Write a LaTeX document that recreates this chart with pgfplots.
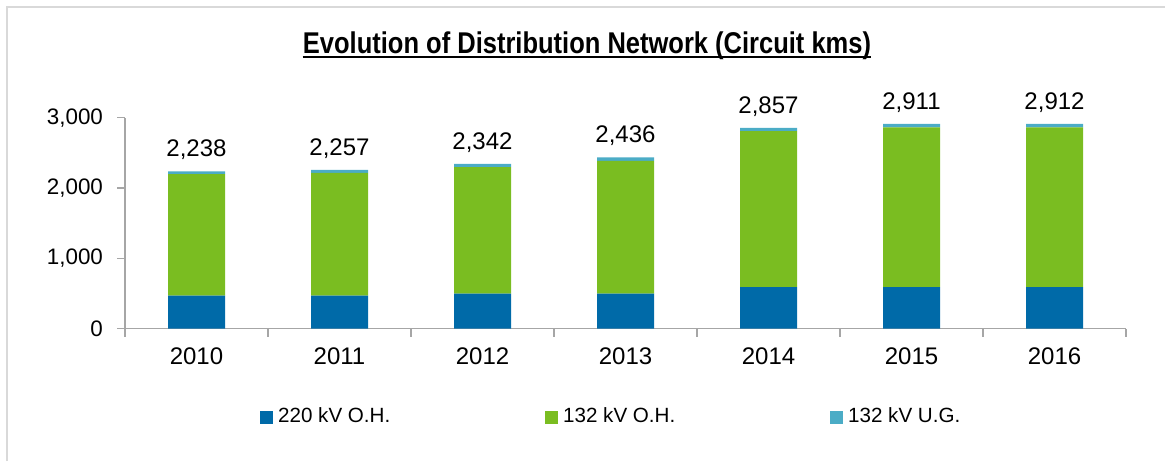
\documentclass[border=0pt]{standalone}
\usepackage{fontspec}
\setmainfont{Liberation Sans}
\newfontfamily\titlefont[FakeStretch=0.85]{Liberation Sans}
\usepackage{pgfplots}
\pgfplotsset{compat=1.18}
\usepackage{pgfplotstable}
\definecolor{cBlue}{HTML}{006AA8}
\definecolor{cGreen}{HTML}{7ABD21}
\definecolor{cAqua}{HTML}{4BACC6}
\definecolor{axgray}{HTML}{A6A6A6}
\definecolor{framegray}{HTML}{D9D9D9}

\pgfplotstableread{
x oh220 oh132 ug132 total
0 470 1728 40 2238
1 470 1745 42 2257
2 500 1797 45 2342
3 500 1888 48 2436
4 590 2220 47 2857
5 590 2273 48 2911
6 590 2274 48 2912
}\datatable

\pgfplotsset{sq/.style={legend image code/.code={\fill[##1] (0pt,-3.25pt) rectangle (6.5pt,3.25pt);}}}

\begin{document}
\begin{tikzpicture}
\path[use as bounding box] (0,0) rectangle (582.5pt,230.5pt);
\draw[framegray, line width=0.75pt] (3.5pt,0) -- (3.5pt,227pt) -- (582.5pt,227pt);
\node (T) [anchor=base, inner sep=0pt, font=\titlefont\bfseries\fontsize{15}{18}\selectfont] at (293.5pt,203.5pt) {Evolution of Distribution Network (Circuit kms)};
\draw[black, line width=0.8pt] ([yshift=-1.6pt]T.base west) -- ([yshift=-1.6pt]T.base east);
\begin{axis}[
  at={(62.5pt,66.15pt)}, anchor=south west, scale only axis,
  width=500.5pt, height=105.5pt,
  ybar stacked, bar width=28.5pt,
  xmin=-0.5, xmax=6.5, ymin=0, ymax=3000,
  axis x line*=bottom, axis y line*=left,
  axis line style={axgray, line width=0.75pt, -},
  ytick={0,1000,2000,3000},
  xtick={-0.5,0.5,1.5,2.5,3.5,4.5,5.5,6.5}, xticklabels={},
  extra x ticks={0,1,2,3,4,5,6},
  extra x tick labels={2010,2011,2012,2013,2014,2015,2016},
  extra x tick style={major tick length=0pt, tick style={draw=none}},
  tick align=outside, major tick length=4pt,
  tick style={axgray, line width=0.75pt},
  /pgf/number format/.cd, 1000 sep={,}, assume math mode=true, /pgfplots/.cd,
  yticklabel style={font=\fontsize{11.2}{13}\selectfont, anchor=east, xshift=-3.5pt},
  xticklabel style={font=\fontsize{12}{14}\selectfont, yshift=-6pt},
  nodes near coords style={font=\fontsize{12}{14}\selectfont, black, anchor=south, yshift=3pt},
  legend style={draw=none, fill=none, inner sep=0pt, outer sep=0pt,
    at={(0.1344,-0.4185)}, anchor=west, legend columns=3,
    font=\fontsize{10.3}{12}\selectfont,
    nodes={inner xsep=0pt, inner ysep=1pt},
    /tikz/every odd column/.append style={column sep=2.8pt},
    /tikz/every even column/.append style={column sep=0pt}},
  clip=false,
]
\addplot[fill=cBlue, draw=none, sq] table[x=x, y=oh220] {\datatable};
\addlegendentry{\makebox[133.2pt][l]{220 kV O.H.}}
\addplot[fill=cGreen, draw=none, sq] table[x=x, y=oh132] {\datatable};
\addlegendentry{\makebox[133.2pt][l]{132 kV O.H.}}
\addplot[fill=cAqua, draw=none, sq, nodes near coords, point meta=explicit] table[x=x, y=ug132, meta=total] {\datatable};
\addlegendentry{132 kV U.G.}
\end{axis}
\end{tikzpicture}
\end{document}
